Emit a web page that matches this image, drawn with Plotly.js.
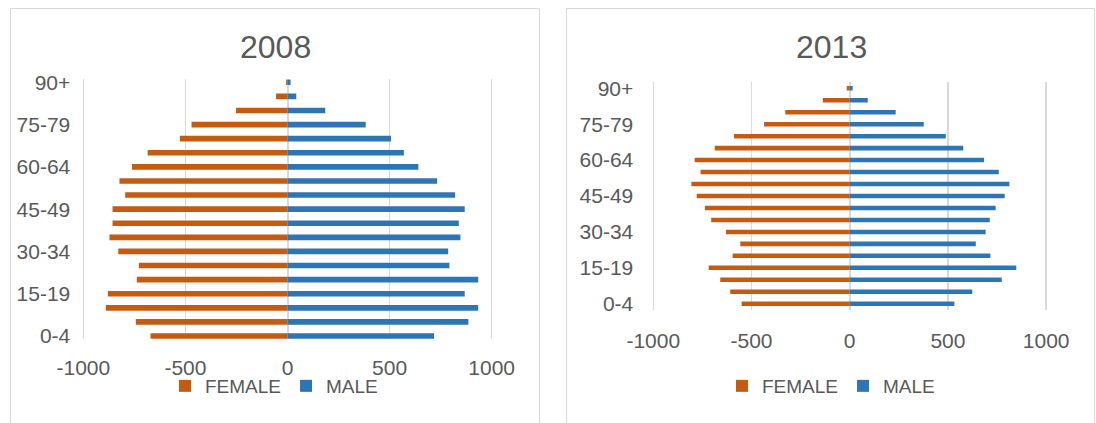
<!DOCTYPE html>
<html>
<head>
<meta charset="utf-8">
<script src="https://cdn.plot.ly/plotly-3.0.1.min.js"></script>
<style>html,body{margin:0;padding:0;background:#fff;}#chart{width:1096px;height:423px;}</style>
</head>
<body>
<div id="chart"></div>
<script>
const ageGroups = ["0-4","5-9","10-14","15-19","20-24","25-29","30-34","35-39","40-44","45-49",
  "50-54","55-59","60-64","65-69","70-74","75-79","80-84","85-89","90+"];
const female2008 = [-671,-743,-890,-880,-738,-728,-829,-872,-857,-857,-795,-823,-762,-685,-527,-470,-252,-56,-7];
const male2008   = [718,886,934,868,934,793,787,847,839,868,821,733,641,570,507,383,185,43,15];
const female2013 = [-550,-608,-659,-718,-596,-557,-630,-705,-737,-779,-806,-759,-789,-687,-589,-436,-328,-137,-15];
const male2013   = [533,624,774,848,716,642,692,713,743,789,813,759,684,578,489,377,234,92,15];
const xTicks = [-1000,-500,0,500,1000];
const titles = ["2008","2013"];

const W = 1096, H = 423;
const FEMALE_C = "#C55A11", MALE_C = "#2E75B6";
const TXT = "#595959", GRID = "#d9d9d9";
const FONT = "Liberation Sans, Arial, sans-serif";

function bar(name, x, xa, ya, color, legend, width) {
  return {type: "bar", orientation: "h", name: name, x: x, y: ageGroups,
    xaxis: xa, yaxis: ya, legend: legend, width: width,
    marker: {color: color}, hoverinfo: "x+y"};
}
const data = [
  bar("FEMALE", female2008, "x", "y", FEMALE_C, "legend", 0.4),
  bar("MALE", male2008, "x", "y", MALE_C, "legend", 0.4),
  bar("FEMALE", female2013, "x2", "y2", FEMALE_C, "legend2", 0.38),
  bar("MALE", male2013, "x2", "y2", MALE_C, "legend2", 0.38)
];

function xax(d0, d1, anchor, standoff) {
  return {domain: [d0 / W, d1 / W], anchor: anchor, range: [-1010, 1010],
    tickvals: xTicks, ticktext: xTicks.map(String), showgrid: true, gridcolor: GRID, gridwidth: 1.5,
    zeroline: true, zerolinecolor: GRID, zerolinewidth: 2, showline: false, ticks: "",
    ticklabelstandoff: standoff, tickfont: {family: FONT, size: 21, color: TXT}, fixedrange: true};
}
function yax(top, bottom, pad, anchor, standoff) {
  return {domain: [(H - bottom) / H, (H - top) / H], anchor: anchor, type: "category",
    categoryorder: "array", categoryarray: ageGroups,
    range: [-pad, ageGroups.length - 1 + pad], dtick: 3, tick0: 0,
    showgrid: false, zeroline: false, showline: false, ticks: "",
    ticklabelstandoff: standoff, tickfont: {family: FONT, size: 21, color: TXT}, fixedrange: true};
}

const layout = {
  width: W, height: H, margin: {l: 0, r: 0, t: 0, b: 0},
  paper_bgcolor: "#fff", plot_bgcolor: "rgba(0,0,0,0)",
  barmode: "overlay", font: {family: FONT, color: TXT},
  xaxis: xax(81.3, 493.7, "y", 14),
  yaxis: yax(79.2, 339.1, 0.22, "x", 10),
  xaxis2: xax(651.3, 1048.1, "y2", 16),
  yaxis2: yax(82.3, 309.7, 0.5, "x2", 17),
  legend: {orientation: "h", x: 274 / W, xanchor: "center", y: (H - 386) / H, yanchor: "middle",
    font: {family: FONT, size: 19, color: TXT}, bgcolor: "rgba(0,0,0,0)"},
  legend2: {orientation: "h", x: 831 / W, xanchor: "center", y: (H - 386) / H, yanchor: "middle",
    font: {family: FONT, size: 19, color: TXT}, bgcolor: "rgba(0,0,0,0)"},
  annotations: [
    {text: titles[0], xref: "paper", yref: "paper", x: 275 / W, y: (H - 47) / H,
      xanchor: "center", yanchor: "middle", showarrow: false, font: {family: FONT, size: 32, color: TXT}},
    {text: titles[1], xref: "paper", yref: "paper", x: 831 / W, y: (H - 47) / H,
      xanchor: "center", yanchor: "middle", showarrow: false, font: {family: FONT, size: 32, color: TXT}}
  ],
  shapes: [
    {type: "rect", xref: "paper", yref: "paper", x0: 10.5 / W, x1: 539.5 / W, y0: -0.05, y1: (H - 8.5) / H,
      line: {color: GRID, width: 1}},
    {type: "rect", xref: "paper", yref: "paper", x0: 566.5 / W, x1: 1094.5 / W, y0: -0.05, y1: (H - 8.5) / H,
      line: {color: GRID, width: 1}}
  ],
  showlegend: true
};

Plotly.newPlot("chart", data, layout, {staticPlot: true, displayModeBar: false});
</script>
</body>
</html>
